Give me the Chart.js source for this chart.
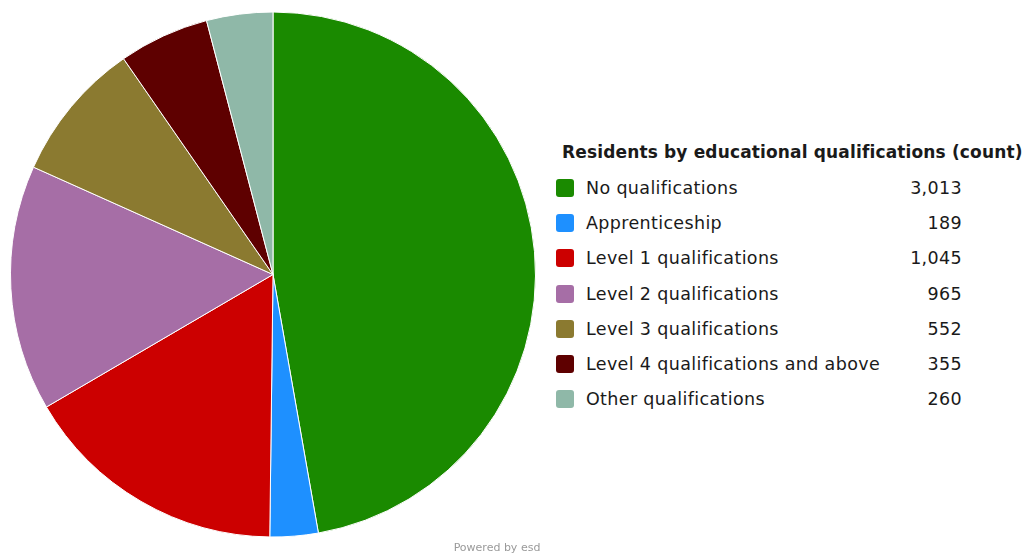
<!DOCTYPE html>
<html>
<head>
<meta charset="utf-8">
<script src="https://cdn.jsdelivr.net/npm/chart.js@4"></script>
<style>
    body { margin: 0; background: #fff; font-family: "DejaVu Sans", sans-serif; }
    #wrap { position: relative; width: 1026px; height: 559px; }
    #pie-box { position: absolute; left: 0; top: 0; width: 546px; height: 549px; }
    #legend { position: absolute; left: 556px; top: 139px; color: #1a1a1a; }
    #legend h3 { margin: 0 0 5px 6px; font-size: 17px; letter-spacing: 0.15px; font-weight: bold; height: 26px; line-height: 26px; }
    .row { display: flex; align-items: center; height: 35.3px; font-size: 17.5px; letter-spacing: 0.35px; }
    .box { width: 18px; height: 18px; border-radius: 3px; margin-right: 12px; }
    .lbl { width: 320px; }
    .val { width: 56px; text-align: right; }
    #powered { position: absolute; left: 0; width: 994px; top: 541px; text-align: center; font-size: 11px; color: #9a9a9a; }
</style>
</head>
<body>
<div id="wrap">
    <div id="pie-box"><canvas id="pie"></canvas></div>
    <div id="legend"></div>
    <div id="powered">Powered by esd</div>
</div>
<script>
const titulo = 'Residents by educational qualifications (count)';
const categorias = [
    'No qualifications',
    'Apprenticeship',
    'Level 1 qualifications',
    'Level 2 qualifications',
    'Level 3 qualifications',
    'Level 4 qualifications and above',
    'Other qualifications'
];
const valores = [3013, 189, 1045, 965, 552, 355, 260];
const colores = [
    '#1a8a00', // verde
    '#1e90ff', // azul
    '#cc0000', // rojo
    '#a66ea6', // morado
    '#8b7a30', // oliva
    '#5e0000', // granate
    '#8fb8a8'  // gris verdoso
];

// Gráfico de pastel
new Chart(document.getElementById('pie'), {
    type: 'pie',
    data: {
        labels: categorias,
        datasets: [{
            data: valores,
            backgroundColor: colores,
            borderColor: '#ffffff',
            borderWidth: 1
        }]
    },
    options: {
        responsive: true,
        maintainAspectRatio: false,
        animation: false,
        layout: { padding: 10 },
        plugins: {
            legend: { display: false },
            tooltip: { enabled: false }
        }
    }
});

// Leyenda a la derecha con los valores
const legend = document.getElementById('legend');
const h = document.createElement('h3');
h.textContent = titulo;
legend.appendChild(h);
categorias.forEach((cat, i) => {
    const row = document.createElement('div');
    row.className = 'row';
    const box = document.createElement('div');
    box.className = 'box';
    box.style.background = colores[i];
    const lbl = document.createElement('div');
    lbl.className = 'lbl';
    lbl.textContent = cat;
    const val = document.createElement('div');
    val.className = 'val';
    val.textContent = valores[i].toLocaleString('en-GB');
    row.appendChild(box);
    row.appendChild(lbl);
    row.appendChild(val);
    legend.appendChild(row);
});
</script>
</body>
</html>
